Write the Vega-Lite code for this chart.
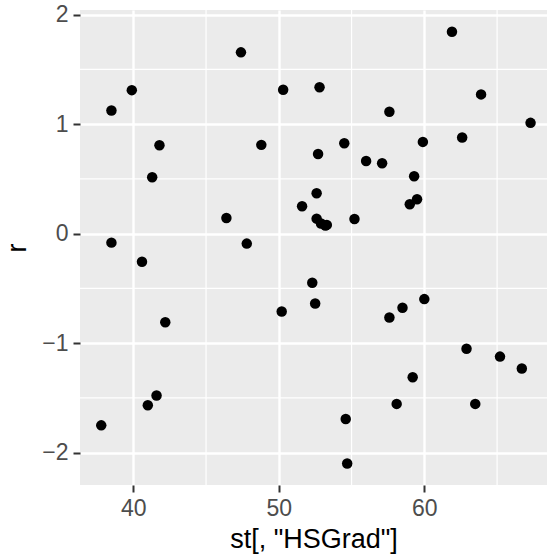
{
  "$schema": "https://vega.github.io/schema/vega-lite/v6.json",
  "width": 467,
  "height": 475,
  "autosize": {"type": "none"},
  "padding": {"left": 80, "top": 10, "right": 1, "bottom": 70},
  "background": "white",
  "view": {"fill": "#EBEBEB", "stroke": null},
  "datasets": {
    "pts": [
      {"state": "Alabama", "HSGrad": 41.3, "r": 0.515},
      {"state": "Alaska", "HSGrad": 66.7, "r": -1.232},
      {"state": "Arizona", "HSGrad": 58.1, "r": -1.555},
      {"state": "Arkansas", "HSGrad": 39.9, "r": 1.311},
      {"state": "California", "HSGrad": 62.6, "r": 0.878},
      {"state": "Colorado", "HSGrad": 63.9, "r": 1.272},
      {"state": "Connecticut", "HSGrad": 56.0, "r": 0.664},
      {"state": "Delaware", "HSGrad": 54.6, "r": -1.693},
      {"state": "Florida", "HSGrad": 52.6, "r": 0.369},
      {"state": "Georgia", "HSGrad": 40.6, "r": -0.256},
      {"state": "Hawaii", "HSGrad": 61.9, "r": 1.844},
      {"state": "Idaho", "HSGrad": 59.5, "r": 0.314},
      {"state": "Illinois", "HSGrad": 52.6, "r": 0.137},
      {"state": "Indiana", "HSGrad": 52.9, "r": 0.092},
      {"state": "Iowa", "HSGrad": 59.0, "r": 0.268},
      {"state": "Kansas", "HSGrad": 59.9, "r": 0.838},
      {"state": "Kentucky", "HSGrad": 38.5, "r": 1.125},
      {"state": "Louisiana", "HSGrad": 42.2, "r": -0.809},
      {"state": "Maine", "HSGrad": 54.7, "r": -2.099},
      {"state": "Maryland", "HSGrad": 52.3, "r": -0.448},
      {"state": "Massachusetts", "HSGrad": 58.5, "r": -0.677},
      {"state": "Michigan", "HSGrad": 52.8, "r": 1.338},
      {"state": "Minnesota", "HSGrad": 57.6, "r": 1.113},
      {"state": "Mississippi", "HSGrad": 41.0, "r": -1.568},
      {"state": "Missouri", "HSGrad": 48.8, "r": 0.811},
      {"state": "Montana", "HSGrad": 59.2, "r": -1.312},
      {"state": "Nebraska", "HSGrad": 59.3, "r": 0.524},
      {"state": "Nevada", "HSGrad": 65.2, "r": -1.123},
      {"state": "New Hampshire", "HSGrad": 57.6, "r": -0.766},
      {"state": "New Jersey", "HSGrad": 52.5, "r": -0.638},
      {"state": "New Mexico", "HSGrad": 55.2, "r": 0.134},
      {"state": "New York", "HSGrad": 52.7, "r": 0.728},
      {"state": "North Carolina", "HSGrad": 38.5, "r": -0.082},
      {"state": "North Dakota", "HSGrad": 50.3, "r": 1.314},
      {"state": "Ohio", "HSGrad": 53.2, "r": 0.075},
      {"state": "Oklahoma", "HSGrad": 51.6, "r": 0.250},
      {"state": "Oregon", "HSGrad": 60.0, "r": -0.598},
      {"state": "Pennsylvania", "HSGrad": 50.2, "r": -0.711},
      {"state": "Rhode Island", "HSGrad": 46.4, "r": 0.143},
      {"state": "South Carolina", "HSGrad": 37.8, "r": -1.751},
      {"state": "South Dakota", "HSGrad": 53.3, "r": 0.080},
      {"state": "Tennessee", "HSGrad": 41.8, "r": 0.808},
      {"state": "Texas", "HSGrad": 47.4, "r": 1.656},
      {"state": "Utah", "HSGrad": 67.3, "r": 1.012},
      {"state": "Vermont", "HSGrad": 57.1, "r": 0.643},
      {"state": "Virginia", "HSGrad": 47.8, "r": -0.091},
      {"state": "Washington", "HSGrad": 63.5, "r": -1.555},
      {"state": "West Virginia", "HSGrad": 41.6, "r": -1.479},
      {"state": "Wisconsin", "HSGrad": 54.5, "r": 0.826},
      {"state": "Wyoming", "HSGrad": 62.9, "r": -1.052}
    ],
    "minorx": [{"v": 45}, {"v": 55}, {"v": 65}],
    "minory": [{"v": -1.5}, {"v": -0.5}, {"v": 0.5}, {"v": 1.5}]
  },
  "config": {
    "font": "Liberation Sans",
    "axis": {
      "grid": true,
      "gridColor": "white",
      "gridWidth": 2.4,
      "domain": false,
      "tickColor": "#333333",
      "tickWidth": 2,
      "tickSize": 7,
      "labelColor": "#4D4D4D",
      "labelFont": "Liberation Sans",
      "labelFontSize": 23,
      "labelPadding": 5,
      "titleFont": "Liberation Sans",
      "titleFontSize": 27,
      "titleFontWeight": "normal",
      "titleColor": "black"
    }
  },
  "layer": [
    {
      "data": {"name": "minorx"},
      "mark": {"type": "rule", "color": "white", "strokeWidth": 1.2},
      "encoding": {
        "x": {"field": "v", "type": "quantitative", "scale": {"domain": [36.34, 68.43], "nice": false, "zero": false}}
      }
    },
    {
      "data": {"name": "minory"},
      "mark": {"type": "rule", "color": "white", "strokeWidth": 1.2},
      "encoding": {
        "y": {"field": "v", "type": "quantitative", "scale": {"domain": [-2.296, 2.043], "nice": false, "zero": false}}
      }
    },
    {
      "data": {"name": "pts"},
      "mark": {"type": "point", "filled": true, "color": "black", "opacity": 1, "size": 110, "shape": "circle"},
      "encoding": {
        "x": {
          "field": "HSGrad", "type": "quantitative",
          "scale": {"domain": [36.34, 68.43], "nice": false, "zero": false},
          "axis": {"values": [40, 50, 60], "format": "d", "title": "st[, \"HSGrad\"]", "titlePadding": 6}
        },
        "y": {
          "field": "r", "type": "quantitative",
          "scale": {"domain": [-2.296, 2.043], "nice": false, "zero": false},
          "axis": {"values": [-2, -1, 0, 1, 2], "format": "d", "title": "r", "titlePadding": 10}
        }
      }
    }
  ]
}
